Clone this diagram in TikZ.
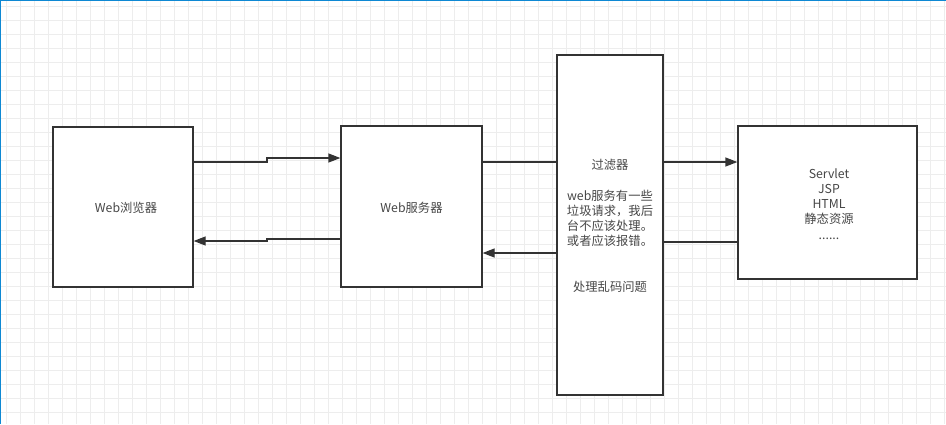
\documentclass[tikz,border=0pt]{standalone}
\usepackage{fontspec}
\setmainfont{Noto Sans CJK SC}
\usetikzlibrary{arrows.meta}
\begin{document}
\begin{tikzpicture}[x=1pt,y=-1pt,
  box/.style={draw=black!80,line width=1.3pt,fill=white,inner sep=0pt},
  lbl/.style={font=\fontsize{12.3}{15.2}\selectfont,text=black!72,align=center},
  conn/.style={draw=black!80,line width=1.3pt},
  arr/.style={conn,-{Triangle[length=12pt,width=9pt]}}]
\useasboundingbox (0,0) rectangle (946,424);
\fill[white] (0,0) rectangle (946,424);
\foreach \i in {0,...,67} {\draw[black!7,line width=0.5pt] (6+14*\i,0) -- (6+14*\i,424);}
\foreach \j in {0,...,30} {\draw[black!7,line width=0.5pt] (0,6+14*\j) -- (946,6+14*\j);}
\draw[cyan!70!blue,line width=1pt] (0,424) -- (0,0.5) -- (946,0.5);
% boxes
\node[box,minimum width=140pt,minimum height=160pt] (browser) at (123,207) {};
\node[box,minimum width=141pt,minimum height=161pt] (server) at (411.5,206.5) {};
\node[box,minimum width=106pt,minimum height=340pt] (filter) at (610,225) {};
\node[box,minimum width=179pt,minimum height=153pt] (res) at (827.5,202.5) {};
% texts
\node[lbl] (tb) at (126,208) {Web浏览器};
\node[lbl] (ts) at (411.5,208) {Web服务器};
\node[lbl,anchor=north] (tf) at (610,156) {过滤器\\[15pt]web服务有一些\\垃圾请求，我后\\台不应该处理。\\或者应该报错。};
\node[lbl] (tf2) at (610,287) {处理乱码问题};
\node[lbl,anchor=north] (tr) at (829,165) {Servlet\\JSP\\HTML\\静态资源\\......};
% connectors
\coordinate (a1) at (browser.east |- 0,162);
\coordinate (a2) at (server.west |- 0,158);
\draw[arr] (a1) -- (267,162) -- (267,158) -- (a2);
\coordinate (b1) at (server.west |- 0,239);
\coordinate (b2) at (browser.east |- 0,241);
\draw[arr] (b1) -- (267,239) -- (267,241) -- (b2);
\coordinate (c1) at (server.east |- 0,162);
\coordinate (c2) at (filter.west |- 0,162);
\draw[conn] (c1) -- (c2);
\coordinate (d1) at (filter.east |- 0,162);
\coordinate (d2) at (res.west |- 0,162);
\draw[arr] (d1) -- (d2);
\coordinate (e1) at (res.west |- 0,242);
\coordinate (e2) at (filter.east |- 0,242);
\draw[conn] (e1) -- (e2);
\coordinate (f1) at (filter.west |- 0,253);
\coordinate (f2) at (server.east |- 0,253);
\draw[arr] (f1) -- (f2);
\end{tikzpicture}
\end{document}
